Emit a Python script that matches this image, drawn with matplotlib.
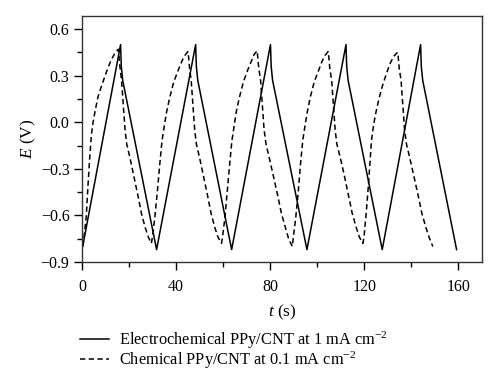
import matplotlib
matplotlib.use("Agg")
import matplotlib.pyplot as plt
from matplotlib.ticker import MultipleLocator

plt.rcParams['font.family'] = 'Liberation Serif'
plt.rcParams['mathtext.fontset'] = 'custom'
plt.rcParams['mathtext.rm'] = 'Liberation Serif'
plt.rcParams['mathtext.it'] = 'Liberation Serif:italic'

# electrochemical PPy/CNT, 1 mA cm-2 (solid)
t_elec = [0.3, 16.4, 16.7, 17.3, 31.7,
          48.3, 48.6, 49.2, 63.6,
          80.1, 80.4, 81.0, 95.6,
          112.2, 112.5, 113.1, 127.6,
          143.9, 144.2, 144.8, 159.2]
E_elec = [-0.80, 0.50, 0.36, 0.27, -0.82,
          0.50, 0.36, 0.27, -0.82,
          0.50, 0.36, 0.27, -0.82,
          0.50, 0.36, 0.27, -0.82,
          0.50, 0.36, 0.27, -0.82]

# chemical PPy/CNT, 0.1 mA cm-2 (dashed)
t_chem = [0.4, 1.0, 1.8, 2.5, 3.2, 4.0, 4.7, 5.8, 6.8, 8.2, 9.6, 11.0, 12.4, 13.8, 14.8, 15.4,
          15.7, 16.1, 16.8, 17.6, 18.3, 19.0, 20.4, 21.8, 23.6, 25.3, 26.9, 28.2, 29.5,
          30.0, 30.9, 32.0, 33.0, 34.0, 35.0, 36.0, 37.3, 39.0, 40.9, 42.5, 43.7, 45.0,
          45.3, 45.7, 46.4, 47.2, 47.9, 48.6, 50.0, 51.4, 53.2, 54.9, 56.5, 57.8, 59.3,
          59.8, 60.7, 61.7, 62.7, 63.7, 64.7, 65.6, 66.9, 68.6, 70.4, 72.0, 73.1, 74.4,
          74.7, 75.1, 75.9, 76.7, 77.4, 78.2, 79.6, 81.1, 83.0, 84.8, 86.5, 87.8, 89.4,
          89.9, 90.8, 91.9, 92.8, 93.8, 94.8, 95.8, 97.0, 98.7, 100.6, 102.1, 103.3, 104.6,
          104.9, 105.3, 106.1, 106.9, 107.6, 108.3, 109.8, 111.3, 113.1, 114.9, 116.6, 117.9, 119.4,
          119.9, 120.7, 121.6, 122.4, 123.0, 124.0, 125.0, 126.2, 127.6, 129.3, 131.0, 132.5, 134.1,
          134.4, 134.8, 135.6, 136.4, 137.1, 137.9, 139.3, 140.8, 142.7, 144.5, 146.2, 147.5, 149.1]
E_chem = [-0.80, -0.72, -0.61, -0.42, -0.245, -0.08, 0.0, 0.09, 0.163, 0.23, 0.29, 0.35, 0.40, 0.44, 0.46, 0.47,
          0.43, 0.36, 0.27, 0.10, -0.05, -0.14, -0.23, -0.33, -0.46, -0.59, -0.68, -0.74, -0.78,
          -0.73, -0.62, -0.45, -0.28, -0.12, -0.02, 0.07, 0.16, 0.26, 0.335, 0.395, 0.43, 0.455,
          0.42, 0.35, 0.27, 0.10, -0.05, -0.14, -0.23, -0.33, -0.46, -0.59, -0.68, -0.74, -0.78,
          -0.73, -0.62, -0.45, -0.28, -0.12, -0.02, 0.07, 0.16, 0.26, 0.335, 0.395, 0.435, 0.46,
          0.42, 0.35, 0.27, 0.10, -0.05, -0.14, -0.23, -0.33, -0.46, -0.59, -0.68, -0.75, -0.80,
          -0.73, -0.62, -0.45, -0.28, -0.12, -0.02, 0.07, 0.16, 0.26, 0.335, 0.395, 0.43, 0.455,
          0.42, 0.35, 0.27, 0.10, -0.05, -0.14, -0.23, -0.33, -0.46, -0.59, -0.68, -0.74, -0.78,
          -0.73, -0.60, -0.43, -0.26, -0.12, -0.01, 0.07, 0.15, 0.23, 0.31, 0.38, 0.425, 0.45,
          0.42, 0.35, 0.27, 0.10, -0.05, -0.14, -0.23, -0.33, -0.46, -0.59, -0.68, -0.74, -0.80]

labels = ['Electrochemical PPy/CNT at 1 mA cm$^{-2}$',
          'Chemical PPy/CNT at 0.1 mA cm$^{-2}$']

fig = plt.figure(figsize=(5, 3.87), dpi=100)
ax = fig.add_axes([0.164, 0.323, 0.8, 0.636])

l1, = ax.plot(t_elec, E_elec, color='black', lw=1.1)
l2, = ax.plot(t_chem, E_chem, color='black', lw=1.1, ls=(0, (3.5, 2.2)))

ax.set_xlim(0, 170)
ax.set_ylim(-0.9, 0.685)
ax.xaxis.set_major_locator(MultipleLocator(40))
ax.xaxis.set_minor_locator(MultipleLocator(20))
ax.yaxis.set_major_locator(MultipleLocator(0.3))
ax.yaxis.set_minor_locator(MultipleLocator(0.15))
ax.yaxis.set_major_formatter(plt.FuncFormatter(lambda v, p: ('%.1f' % v).replace('-', '\u2212')))
ax.tick_params(which='major', direction='out', length=5.5, width=1, labelsize=11.5, top=False, right=False)
ax.tick_params(axis='x', which='major', pad=7)
ax.tick_params(which='minor', direction='out', length=3.5, width=1, top=False, right=False)
for s in ax.spines.values():
    s.set_linewidth(1)
    s.set_color('#333333')

ax.set_xlabel('$t$ (s)', fontsize=12.5, labelpad=5)
ax.set_ylabel('$E$ (V)', fontsize=12.5, labelpad=2)

fig.legend([l1, l2], labels, loc='upper left', bbox_to_anchor=(0.147, 0.166),
           frameon=False, fontsize=11.8, handlelength=1.75, handletextpad=0.6,
           labelspacing=-0.08, borderaxespad=0)

fig.savefig('out.png', dpi=100)
